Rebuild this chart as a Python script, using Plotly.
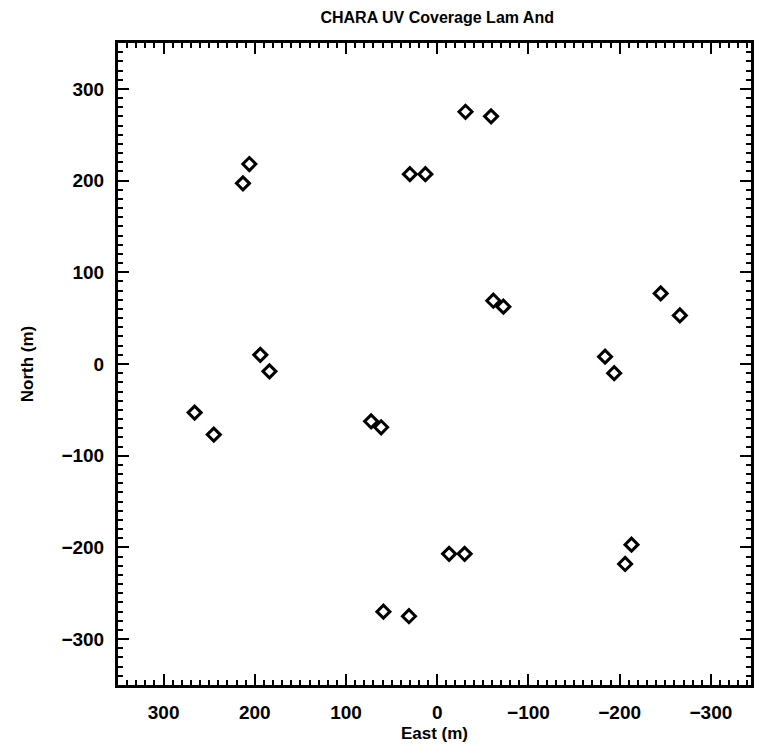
import plotly.graph_objects as go

# UV-plane baselines (metres): East (u) and North (v)
east = [-31, -59, 59, 31,
        206, 213, -206, -213,
        30, 13, -30, -13,
        -61.5, -72.5, 61.5, 72.5,
        -245, -266, 245, 266,
        194, 184, -194, -184]
north = [275, 270, -270, -275,
         218, 197, -218, -197,
         207, 207, -207, -207,
         69, 62.5, -69, -62.5,
         77, 53, -77, -53,
         10, -8, -10, 8]

x_ticks = [300, 200, 100, 0, -100, -200, -300]
y_ticks = [-300, -200, -100, 0, 100, 200, 300]
x_labels = ["300", "200", "100", "0", "\u2212100", "\u2212200", "\u2212300"]
y_labels = ["\u2212300", "\u2212200", "\u2212100", "0", "100", "200", "300"]

FONT = "Liberation Sans"

fig = go.Figure(go.Scatter(
    x=east, y=north, mode="markers",
    marker=dict(symbol="diamond-open", size=10, color="black",
                line=dict(color="black", width=3)),
    showlegend=False, hoverinfo="x+y",
))

axis_common = dict(
    showgrid=False, zeroline=False,
    showline=True, linecolor="black", linewidth=3, mirror="allticks",
    ticks="inside", ticklen=11, tickwidth=2, tickcolor="black",
    minor=dict(ticks="inside", ticklen=5, tickwidth=2, tickcolor="black", dtick=10),
    tickfont=dict(family=FONT, size=19, color="black", weight="bold"),
)

fig.update_layout(
    width=763, height=752,
    margin=dict(l=118, r=9, t=43, b=67),
    paper_bgcolor="white", plot_bgcolor="white",
    title=dict(text="CHARA UV Coverage Lam And", x=0.573, xanchor="center",
               y=0.977, yanchor="middle",
               font=dict(family=FONT, size=16, color="black", weight="bold")),
    xaxis=dict(range=[350, -344], tickvals=x_ticks, ticktext=x_labels,
               ticklabelstandoff=8,
               title=dict(text="East (m)", standoff=6,
                          font=dict(family=FONT, size=17, color="black", weight="bold")),
               **axis_common),
    yaxis=dict(range=[-350, 350], tickvals=y_ticks, ticktext=y_labels,
               ticklabelstandoff=7,
               title=dict(text="North (m)", standoff=24,
                          font=dict(family=FONT, size=17, color="black", weight="bold")),
               **axis_common),
)

fig.write_html("out.html")
